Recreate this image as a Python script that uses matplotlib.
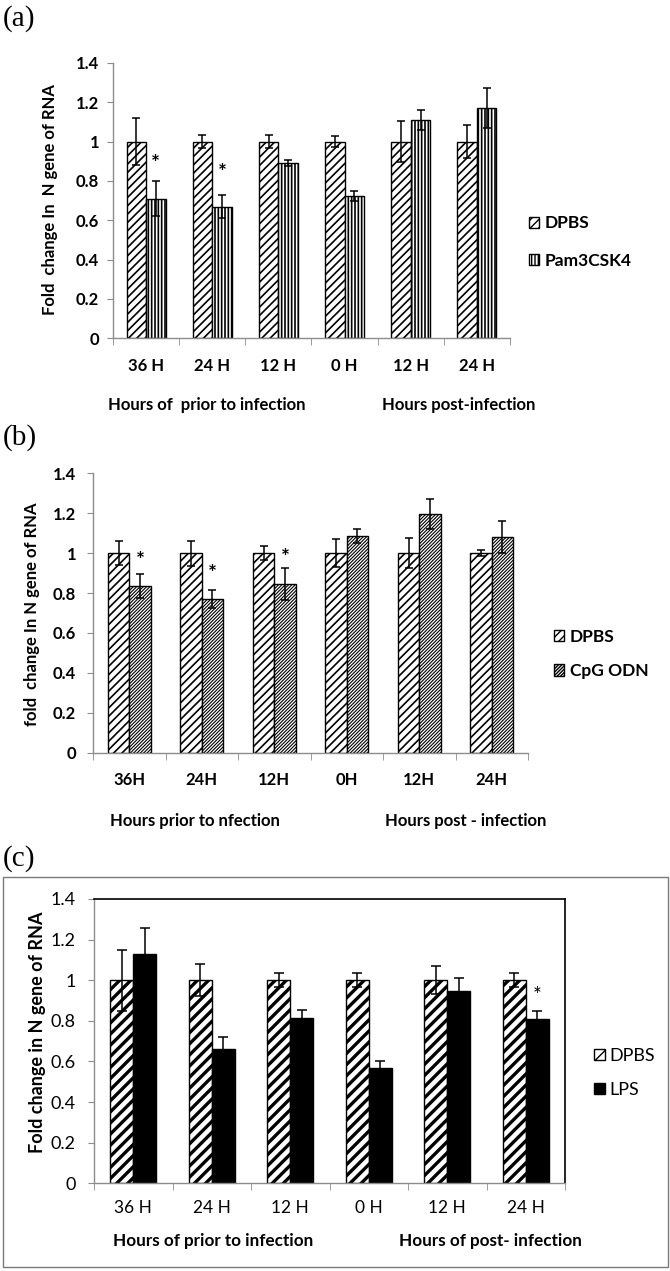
import numpy as np
import matplotlib
matplotlib.use("Agg")
import matplotlib.pyplot as plt
from matplotlib.patches import Rectangle

# ---------------- data ----------------
categories = ["36 H", "24 H", "12 H", "0 H", "12 H", "24 H"]
categories_b = ["36H", "24H", "12H", "0H", "12H", "24H"]

a_dpbs = [1.0, 1.0, 1.0, 1.0, 1.0, 1.0]
a_dpbs_err = [0.12, 0.035, 0.035, 0.028, 0.105, 0.085]
a_pam = [0.71, 0.67, 0.89, 0.725, 1.11, 1.17]
a_pam_err = [0.09, 0.06, 0.015, 0.025, 0.05, 0.10]
a_star_y = [0.885, 0.84, None, None, None, None]

b_dpbs = [1.0, 1.0, 1.0, 1.0, 1.0, 1.0]
b_dpbs_err = [0.06, 0.062, 0.035, 0.07, 0.075, 0.015]
b_cpg = [0.835, 0.768, 0.845, 1.085, 1.196, 1.08]
b_cpg_err = [0.06, 0.045, 0.08, 0.035, 0.075, 0.08]
b_star_y = [0.96, 0.895, 0.975, None, None, None]

c_dpbs = [1.0, 1.0, 1.0, 1.0, 1.0, 1.0]
c_dpbs_err = [0.15, 0.08, 0.035, 0.035, 0.068, 0.035]
c_lps = [1.13, 0.66, 0.814, 0.57, 0.947, 0.807]
c_lps_err = [0.125, 0.062, 0.04, 0.033, 0.064, 0.04]
c_star_y = [None, None, None, None, None, 0.92]

W, H = 670, 1271
fig = plt.figure(figsize=(W / 100, H / 100), dpi=100)

SANS = ["Lato", "DejaVu Sans"]
SERIF = ["Liberation Serif", "DejaVu Serif"]
HEAVY = "bold"


def fx(px):
    return px / W


def fy(py):
    return 1 - py / H


def set_hlw(container, lw):
    for p in container.patches:
        if hasattr(p, "set_hatch_linewidth"):
            p.set_hatch_linewidth(lw)


def panel(rect, d1, e1, d2, e2, stars, hatch1, hatch2, face2, hlw1, hlw2,
          ticklabels, weight, tsize, ysize, capsize, boxed, xpad, ypad):
    ax = fig.add_axes(rect)
    x = np.arange(len(d1))
    w = 0.295
    with plt.rc_context({"hatch.linewidth": hlw1}):
        b1 = ax.bar(x - w / 2, d1, w, color="white", edgecolor="black",
                    hatch=hatch1, linewidth=1.0, zorder=2)
    set_hlw(b1, hlw1)
    with plt.rc_context({"hatch.linewidth": hlw2}):
        b2 = ax.bar(x + w / 2, d2, w, color=face2, edgecolor="black",
                    hatch=hatch2, linewidth=1.0, zorder=2)
    set_hlw(b2, hlw2)
    ax.errorbar(x - w / 2, d1, yerr=e1, fmt="none", ecolor="black",
                elinewidth=1.1, capsize=capsize, capthick=1.1, zorder=3)
    ax.errorbar(x + w / 2, d2, yerr=e2, fmt="none", ecolor="black",
                elinewidth=1.1, capsize=capsize, capthick=1.1, zorder=3)
    for xi, sy in zip(x, stars):
        if sy is not None:
            ax.text(xi + w / 2, sy, "*", ha="center", va="center",
                    fontsize=15, fontweight=weight, family=SANS)
    ax.set_xlim(-0.5, len(d1) - 0.5)
    ax.set_ylim(0, 1.4)
    ax.set_yticks(np.arange(0, 1.41, 0.2))
    ax.set_yticklabels(["0", "0.2", "0.4", "0.6", "0.8", "1", "1.2", "1.4"],
                       fontsize=ysize, fontweight=weight, family=SANS)
    ax.set_xticks(x)
    ax.set_xticklabels(ticklabels, fontsize=tsize, fontweight=weight,
                       family=SANS)
    ax.set_xticks(np.arange(-0.5, len(d1), 1.0), minor=True)
    ax.tick_params(axis="x", which="major", length=0, pad=xpad)
    ax.tick_params(axis="x", which="minor", length=5, color="#8c8c8c",
                   direction="out")
    ax.tick_params(axis="y", length=4, color="#8c8c8c", pad=ypad)
    for s in ["left", "bottom"]:
        ax.spines[s].set_color("#8c8c8c")
        ax.spines[s].set_linewidth(1.0)
    if boxed:
        for s in ["top", "right"]:
            ax.spines[s].set_color("black")
            ax.spines[s].set_linewidth(1.2)
    else:
        ax.spines["top"].set_visible(False)
        ax.spines["right"].set_visible(False)
    return ax, b1, b2


# ---------------- panel (a) ----------------
ax_a, a1, a2 = panel([fx(113), fy(338.3), fx(397), 275.4 / H],
                     a_dpbs, a_dpbs_err, a_pam, a_pam_err, a_star_y,
                     "////", "|||||", "white", 1.2, 1.2,
                     categories, HEAVY, 12, 12, 3, False, 14, 6)
fig.text(fx(3), fy(19), "(a)", fontsize=21, family=SERIF, va="center",
         ha="left")
fig.text(fx(50), fy(200), "Fold  change In  N gene of RNA", rotation=90,
         ha="center", va="center", fontsize=12, fontweight=HEAVY,
         family=SANS)
fig.text(fx(207), fy(405), "Hours of  prior to infection", ha="center",
         va="center", fontsize=12, fontweight=HEAVY, family=SANS)
fig.text(fx(459), fy(405), "Hours post-infection", ha="center",
         va="center", fontsize=12, fontweight=HEAVY, family=SANS)
fig.legend([a1, a2], ["DPBS", "Pam3CSK4"], loc="center left",
           bbox_to_anchor=(fx(529), fy(242)), frameon=False,
           prop={"family": SANS, "weight": HEAVY, "size": 12.5},
           handlelength=0.6, handleheight=0.6, handletextpad=0.3,
           labelspacing=1.25, borderpad=0, borderaxespad=0)

# ---------------- panel (b) ----------------
ax_b, b1, b2 = panel([fx(93), fy(752.7), fx(435), 279.4 / H],
                     b_dpbs, b_dpbs_err, b_cpg, b_cpg_err, b_star_y,
                     "////", "//////////", "white", 1.2, 0.8,
                     categories_b, HEAVY, 12, 12, 3, False, 14, 8)
fig.text(fx(3), fy(438), "(b)", fontsize=21, family=SERIF, va="center",
         ha="left")
fig.text(fx(32), fy(614), "fold  change In N gene of RNA", rotation=90,
         ha="center", va="center", fontsize=12, fontweight=HEAVY,
         family=SANS)
fig.text(fx(195), fy(821), "Hours prior to nfection", ha="center",
         va="center", fontsize=12, fontweight=HEAVY, family=SANS)
fig.text(fx(466), fy(821), "Hours post - infection", ha="center",
         va="center", fontsize=12, fontweight=HEAVY, family=SANS)
fig.legend([b1, b2], ["DPBS", "CpG ODN"], loc="center left",
           bbox_to_anchor=(fx(554), fy(654)), frameon=False,
           prop={"family": SANS, "weight": HEAVY, "size": 12.5},
           handlelength=0.6, handleheight=0.6, handletextpad=0.3,
           labelspacing=1.05, borderpad=0, borderaxespad=0)

# ---------------- panel (c) ----------------
fig.patches.append(Rectangle((fx(3), fy(1267)), fx(665), 390 / H,
                             transform=fig.transFigure, fill=False,
                             edgecolor="#7a7a7a", linewidth=1.0))
ax_c, c1, c2 = panel([fx(94), fy(1183.3), fx(471), 284.3 / H],
                     c_dpbs, c_dpbs_err, c_lps, c_lps_err, c_star_y,
                     "///", "", "black", 2.4, 1.0,
                     categories, "normal", 12.5, 13, 3.3, True, 12, 9)
fig.text(fx(3), fy(859), "(c)", fontsize=21, family=SERIF, va="center",
         ha="left")
fig.text(fx(38), fy(1032), "Fold change in N gene of RNA", rotation=90,
         ha="center", va="center", fontsize=13, fontweight="bold",
         family=SANS)
fig.text(fx(213), fy(1241), "Hours of prior to infection", ha="center",
         va="center", fontsize=12.3, fontweight="bold", family=SANS)
fig.text(fx(490), fy(1241), "Hours of post- infection", ha="center",
         va="center", fontsize=12.3, fontweight="bold", family=SANS)
fig.legend([c1, c2], ["DPBS", "LPS"], loc="center left",
           bbox_to_anchor=(fx(594), fy(1073)), frameon=False,
           prop={"family": SANS, "size": 13},
           handlelength=0.6, handleheight=0.6, handletextpad=0.25,
           labelspacing=1.0, borderpad=0, borderaxespad=0)

fig.savefig("out.png", dpi=100)
